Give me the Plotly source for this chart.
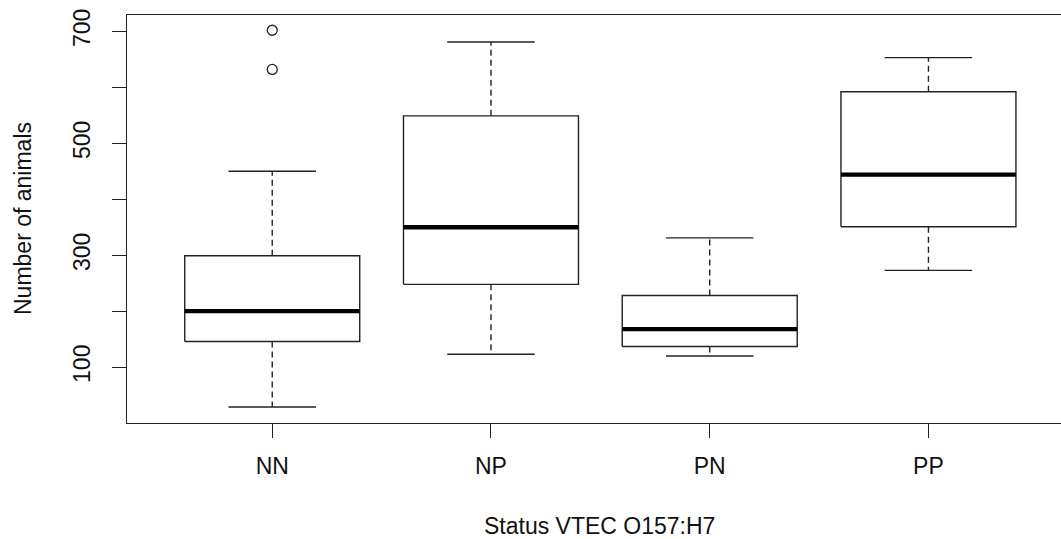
import plotly.graph_objects as go

# Summary statistics per VTEC O157:H7 status group
groups = ["NN", "NP", "PN", "PP"]
lower_whisker = [29, 123, 120, 273]
q1 = [146, 248, 137, 351]
median = [200, 350, 168, 444]
q3 = [299, 549, 228, 592]
upper_whisker = [450, 681, 331, 653]
outlier_group = ["NN", "NN"]
outlier_value = [702, 632]

y_ticks = [100, 200, 300, 400, 500, 600, 700]
y_tick_labels = ["100", "", "300", "", "500", "", "700"]

LINE = "#222222"
FONT = "Liberation Sans, Arial, Helvetica, sans-serif"
BOX_HALF = 0.4
STAPLE_HALF = 0.2

fig = go.Figure()

for i, g in enumerate(groups):
    x = i + 1
    # box outline
    fig.add_trace(go.Scatter(
        x=[x - BOX_HALF, x + BOX_HALF, x + BOX_HALF, x - BOX_HALF, x - BOX_HALF],
        y=[q1[i], q1[i], q3[i], q3[i], q1[i]],
        mode="lines", line=dict(color=LINE, width=1.4),
        hoverinfo="skip", showlegend=False))
    # median bar
    fig.add_trace(go.Scatter(
        x=[x - BOX_HALF, x + BOX_HALF], y=[median[i], median[i]],
        mode="lines", line=dict(color="black", width=4.3),
        hoverinfo="skip", showlegend=False))
    # dashed whiskers
    fig.add_trace(go.Scatter(
        x=[x, x, None, x, x],
        y=[q1[i], lower_whisker[i], None, q3[i], upper_whisker[i]],
        mode="lines", line=dict(color=LINE, width=1.4, dash="6px,4px"),
        hoverinfo="skip", showlegend=False))
    # staples
    fig.add_trace(go.Scatter(
        x=[x - STAPLE_HALF, x + STAPLE_HALF, None, x - STAPLE_HALF, x + STAPLE_HALF],
        y=[lower_whisker[i], lower_whisker[i], None, upper_whisker[i], upper_whisker[i]],
        mode="lines", line=dict(color=LINE, width=1.4),
        hoverinfo="skip", showlegend=False))

# outliers
fig.add_trace(go.Scatter(
    x=[groups.index(g) + 1 for g in outlier_group], y=outlier_value,
    mode="markers",
    marker=dict(symbol="circle-open", size=10, color=LINE, line=dict(width=1.3)),
    hoverinfo="skip", showlegend=False))

fig.update_layout(
    width=1061, height=539,
    margin=dict(l=127, r=0, t=15, b=116),
    paper_bgcolor="white", plot_bgcolor="white",
    font=dict(family=FONT, size=23, color="#111111"),
    xaxis=dict(
        range=[0.336, 4.606],
        tickmode="array", tickvals=[1, 2, 3, 4], ticktext=groups,
        ticks="outside", ticklen=14, tickwidth=1.3, tickcolor=LINE,
        showline=True, linecolor=LINE, linewidth=1.4, mirror=True,
        showgrid=False, zeroline=False, ticklabelstandoff=8,
    ),
    yaxis=dict(
        range=[0.3, 729.2],
        tickmode="array", tickvals=y_ticks, ticktext=y_tick_labels,
        tickangle=-90,
        ticks="outside", ticklen=14, tickwidth=1.3, tickcolor=LINE,
        showline=True, linecolor=LINE, linewidth=1.4, mirror=False,
        showgrid=False, zeroline=False, ticklabelstandoff=13,
    ),
    annotations=[
        dict(text="Number of animals", textangle=-90,
             xref="paper", yref="paper", x=0, y=0.5, xshift=-104,
             xanchor="center", yanchor="middle", showarrow=False,
             font=dict(family=FONT, size=23, color="#111111")),
        dict(text="Status VTEC O157:H7",
             xref="paper", yref="paper", x=0.5, y=0, xshift=5, yshift=-103,
             xanchor="center", yanchor="middle", showarrow=False,
             font=dict(family=FONT, size=23, color="#111111")),
    ],
)

fig.write_html("out.html")
